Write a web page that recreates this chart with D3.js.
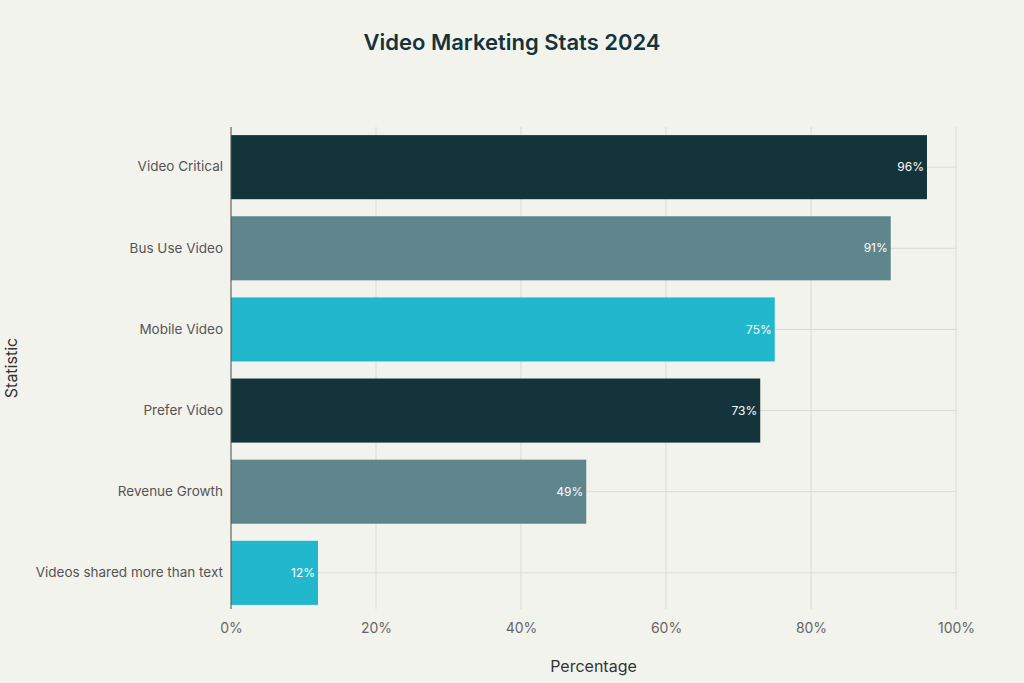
<!DOCTYPE html>
<html><head><meta charset="utf-8">
<script src="https://cdn.jsdelivr.net/npm/d3@7"></script>
<style>body{margin:0;background:#F3F3EE;font-family:Inter,"Open Sans",sans-serif}</style>
</head><body><svg id="c" width="1024" height="683"></svg>
<script>
const categories = ["Video Critical","Bus Use Video","Mobile Video","Prefer Video","Revenue Growth","Videos shared more than text"];
const values = [96, 91, 75, 73, 49, 12];
const colors = ["#13343B","#5E868C","#21B8CD","#13343B","#5E868C","#21B8CD"];
const xTicks = [0,20,40,60,80,100];

const margin = {top:127, right:68, bottom:70, left:231};
const W = 1024, H = 683;
const svg = d3.select("#c");
svg.append("rect").attr("width",W).attr("height",H).attr("fill","#F3F3EE");

const x = d3.scaleLinear().domain([0,100]).range([margin.left, W - margin.right]);
const y = d3.scaleBand().domain(categories).range([margin.top, H - margin.bottom]).paddingInner(0.21).paddingOuter(0.1);

// grid
svg.append("g").selectAll("line").data(xTicks).join("line")
  .attr("x1",d=>x(d)).attr("x2",d=>x(d)).attr("y1",margin.top).attr("y2",609)
  .attr("stroke","#D9D9D6").attr("stroke-width",1);
svg.append("g").selectAll("line").data(categories).join("line")
  .attr("x1",margin.left).attr("x2",W-margin.right)
  .attr("y1",d=>y(d)+y.bandwidth()/2).attr("y2",d=>y(d)+y.bandwidth()/2)
  .attr("stroke","#D9D9D6");

// bars
svg.append("g").selectAll("rect").data(values).join("rect")
  .attr("x",x(0)).attr("y",(d,i)=>y(categories[i]))
  .attr("width",d=>x(d)-x(0)).attr("height",y.bandwidth())
  .attr("fill",(d,i)=>colors[i]);

svg.append("g").selectAll("text").data(values).join("text")
  .attr("x",d=>x(d)-3).attr("y",(d,i)=>y(categories[i])+y.bandwidth()/2)
  .attr("dy","0.35em").attr("text-anchor","end").attr("fill","#fff")
  .attr("font-size",12).text(d=>d+"%");

// axes
const xAxis = svg.append("g").attr("transform",`translate(0,609)`)
  .call(d3.axisBottom(x).tickValues(xTicks).tickFormat(d=>d+"%").tickSize(0).tickPadding(14));
xAxis.select(".domain").remove();
xAxis.selectAll("text").attr("font-size",14).attr("fill","#666").attr("font-family","Inter,sans-serif");

const yAxis = svg.append("g").attr("transform",`translate(${margin.left},0)`)
  .call(d3.axisLeft(y).tickSize(0).tickPadding(8));
yAxis.select(".domain").attr("stroke","#555").attr("d","M0,127V609");
yAxis.selectAll("text").attr("font-size",13.5).attr("fill","#555").attr("font-family","Inter,sans-serif");

svg.append("text").attr("x",512).attr("y",50).attr("text-anchor","middle")
  .attr("font-size",22).attr("font-weight",600).attr("fill","#13343B").text("Video Marketing Stats 2024");
svg.append("text").attr("x",(margin.left+W-margin.right)/2).attr("y",672).attr("text-anchor","middle")
  .attr("font-size",16).attr("fill","#333").text("Percentage");
svg.append("text").attr("transform",`translate(17,368) rotate(-90)`)
  .attr("text-anchor","middle").attr("font-size",16).attr("fill","#333").text("Statistic");
</script></body></html>
